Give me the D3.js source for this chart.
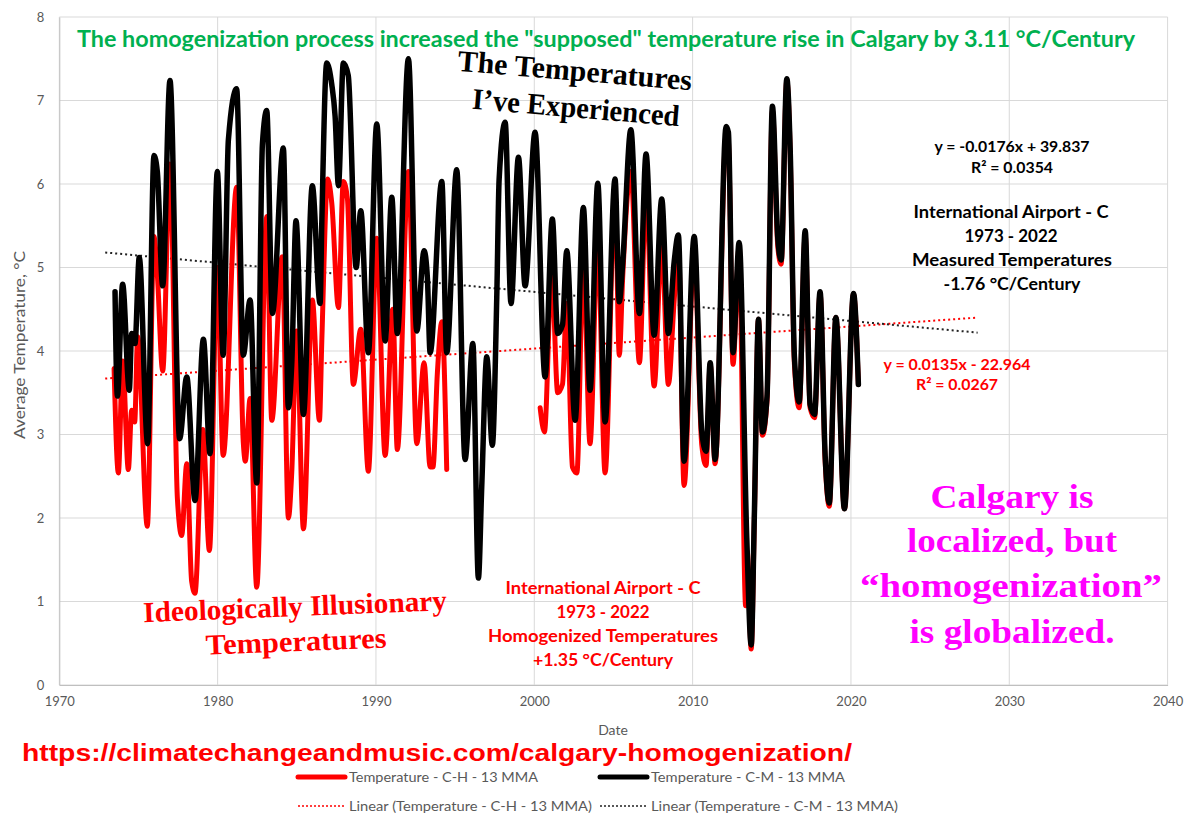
<!DOCTYPE html>
<html><head><meta charset="utf-8">
<script src="https://cdn.jsdelivr.net/npm/d3@7"></script>
<style>body{margin:0;background:#fff}</style>
</head><body><svg id="c" width="1186" height="817"></svg>
<script>
// ---------- data ----------
const xTicks = [1970, 1980, 1990, 2000, 2010, 2020, 2030, 2040];
const yTicks = [0, 1, 2, 3, 4, 5, 6, 7, 8];

// Temperature - C-M - 13 MMA  (measured)  [year, °C]
const seriesCM = [
  [1973.52,4.71],[1973.67,3.46],[1974.00,4.80],[1974.42,3.53],[1974.57,4.21],[1974.78,4.09],
  [1975.05,5.12],[1975.58,2.89],[1975.98,6.34],[1976.19,6.15],[1976.53,4.78],[1976.99,7.24],
  [1977.60,2.95],[1978.05,3.69],[1978.57,2.21],[1979.10,4.14],[1979.52,2.77],[1979.98,6.15],
  [1980.35,3.95],[1980.68,6.53],[1981.20,7.14],[1981.62,3.95],[1982.05,4.61],[1982.47,2.42],
  [1982.83,6.48],[1983.10,6.88],[1983.46,4.45],[1984.15,6.43],[1984.47,3.32],[1984.68,3.84],
  [1984.95,5.56],[1985.42,3.24],[1985.98,5.98],[1986.47,4.57],[1986.58,5.54],[1986.89,7.45],
  [1987.21,7.19],[1987.42,6.81],[1987.63,5.98],[1987.94,7.45],[1988.25,7.30],[1988.75,5.00],
  [1989.04,5.68],[1989.52,3.98],[1990.05,6.72],[1990.58,4.12],[1991.00,5.84],[1991.35,4.21],
  [1992.05,7.50],[1992.58,4.24],[1993.04,5.20],[1993.25,4.87],[1993.42,3.98],[1994.16,6.03],
  [1994.47,3.98],[1995.10,6.17],[1995.63,2.70],[1996.12,4.09],[1996.47,1.28],[1996.68,2.37],
  [1997.00,3.93],[1997.35,2.87],[1997.63,4.64],[1997.78,6.06],[1998.16,6.74],[1998.53,4.57],
  [1999.00,6.32],[1999.42,4.78],[2000.05,6.62],[2000.68,3.69],[2001.14,5.58],[2001.48,4.21],
  [2001.78,4.31],[2002.05,5.20],[2002.58,3.17],[2003.10,5.72],[2003.52,3.53],[2004.01,6.01],
  [2004.47,3.15],[2005.10,6.06],[2005.37,4.59],[2005.58,5.04],[2006.10,6.65],[2006.64,4.45],
  [2007.06,6.36],[2007.57,4.19],[2008.05,5.82],[2008.47,4.21],[2008.83,5.06],[2009.10,5.39],
  [2009.46,2.68],[2010.10,5.37],[2010.58,3.03],[2010.85,2.80],[2011.11,3.86],[2011.42,2.70],
  [2012.12,6.69],[2012.26,6.62],[2012.55,3.98],[2012.94,5.30],[2013.42,1.76],[2013.70,0.48],
  [2013.90,2.04],[2014.16,4.38],[2014.41,3.03],[2014.70,3.46],[2015.04,6.93],[2015.38,5.35],
  [2015.59,5.09],[2015.95,7.26],[2016.16,6.43],[2016.43,3.93],[2016.73,3.39],[2017.11,5.44],
  [2017.42,3.36],[2017.70,3.24],[2018.05,4.71],[2018.37,2.75],[2018.63,2.18],[2019.05,4.40],
  [2019.59,2.11],[2020.16,4.69],[2020.47,3.60]
];

// Temperature - C-H - 13 MMA  (homogenized)  [year, °C]; null = gap in the record
const seriesCH = [
  [1973.46,3.79],[1973.73,2.54],[1974.00,3.88],[1974.36,2.58],[1974.57,3.29],[1974.76,3.15],
  [1974.95,4.17],[1975.56,1.90],[1975.98,5.37],[1976.19,4.92],[1976.53,3.76],[1976.99,6.24],
  [1977.46,2.23],[1977.73,1.79],[1978.05,2.65],[1978.36,1.24],[1978.57,1.10],[1979.06,3.06],
  [1979.48,1.61],[1979.98,5.00],[1980.35,2.75],[1981.20,5.96],[1981.62,2.91],[1981.75,2.68],
  [1982.05,3.43],[1982.47,1.17],[1983.10,5.61],[1983.42,3.17],[1984.08,5.13],[1984.47,2.00],
  [1984.68,2.54],[1984.99,4.24],[1985.42,1.87],[1985.98,4.61],[1986.43,3.17],[1986.58,4.12],
  [1986.95,6.06],[1987.21,5.77],[1987.63,4.52],[1987.94,6.03],[1988.20,5.82],[1988.57,3.60],
  [1989.04,4.26],[1989.52,2.56],[1990.05,5.35],[1990.58,2.75],[1991.06,4.50],[1991.35,2.82],
  [1992.05,6.15],[1992.58,2.89],[1993.04,3.86],[1993.42,2.61],[1993.60,2.61],[1993.88,3.74],
  [1994.16,4.35],[1994.47,2.58],
  null,
  [2000.37,3.32],[2000.64,3.03],[2001.10,4.95],[2001.48,3.50],[2001.78,3.60],[2002.05,4.57],
  [2002.41,2.61],[2002.69,2.54],[2003.10,5.11],[2003.52,2.89],[2004.01,5.35],[2004.47,2.54],
  [2005.10,5.91],[2005.37,3.95],[2005.58,4.87],[2006.10,6.15],[2006.64,3.86],[2007.06,5.91],
  [2007.57,3.58],[2008.05,5.30],[2008.47,3.60],[2008.83,4.59],[2009.10,5.25],[2009.46,2.39],
  [2010.10,5.20],[2010.58,2.87],[2010.85,2.63],[2011.11,3.84],[2011.42,2.65],[2012.12,6.57],
  [2012.26,6.55],[2012.55,3.84],[2012.94,5.25],[2013.35,0.95],[2013.45,1.60],[2013.70,0.43],
  [2013.90,2.00],[2014.16,4.38],[2014.41,2.99],[2014.70,3.41],[2015.04,6.88],[2015.38,5.25],
  [2015.59,5.04],[2015.95,7.24],[2016.16,6.40],[2016.43,3.84],[2016.73,3.32],[2017.11,5.39],
  [2017.42,3.32],[2017.70,3.20],[2018.05,4.69],[2018.37,2.69],[2018.63,2.14],[2019.05,4.40],
  [2019.59,2.11],[2020.16,4.68],[2020.47,3.60]
];

// linear trend lines (end points)
const trendYears = [1972.9, 2028.0];
const trendCH = [3.67, 4.40];
const trendCM = [5.18, 4.22];

const legendLabels = [
  "Temperature - C-H - 13 MMA", "Temperature - C-M - 13 MMA",
  "Linear (Temperature - C-H - 13 MMA)", "Linear (Temperature - C-M - 13 MMA)"
];

// ---------- drawing ----------
const svg = d3.select("#c");
const L = 59.3, R = 1167.6, T = 17, B = 685;
const x = d3.scaleLinear().domain([1970, 2040]).range([L, R]);
const y = d3.scaleLinear().domain([0, 8]).range([B, T]);
const SANS = "Lato, 'Open Sans', sans-serif";
const SERIF = "'Liberation Serif', 'DejaVu Serif', serif";
const GRID = "#d9d9d9", LABEL = "#595959";

// gridlines
svg.append("g").selectAll("line.h").data(yTicks).join("line")
  .attr("x1", L).attr("x2", R).attr("y1", d => y(d)).attr("y2", d => y(d))
  .attr("stroke", GRID).attr("stroke-width", 1);
svg.append("g").selectAll("line.v").data(xTicks).join("line")
  .attr("x1", d => x(d)).attr("x2", d => x(d)).attr("y1", T).attr("y2", B)
  .attr("stroke", GRID).attr("stroke-width", 1);

// axes
const gx = svg.append("g").attr("transform", `translate(0,${B})`)
  .call(d3.axisBottom(x).tickValues(xTicks).tickFormat(d3.format("d")).tickSize(0).tickPadding(12));
gx.select(".domain").attr("stroke", "#bfbfbf");
const gy = svg.append("g").attr("transform", `translate(${L},0)`)
  .call(d3.axisLeft(y).tickValues(yTicks).tickSize(0).tickPadding(15));
gy.select(".domain").attr("stroke", "#bfbfbf");
svg.selectAll(".tick text").attr("font-family", SANS).attr("font-size", 13).attr("fill", LABEL);

// axis titles
svg.append("text").attr("x", 613).attr("y", 735).attr("text-anchor", "middle")
  .attr("font-family", SANS).attr("font-size", 14).attr("fill", LABEL).text("Date");
svg.append("text").attr("transform", "translate(25,345) rotate(-90)").attr("text-anchor", "middle")
  .attr("font-family", SANS).attr("font-size", 14.5).attr("fill", LABEL)
  .attr("textLength", 188).attr("lengthAdjust", "spacingAndGlyphs").text("Average Temperature, °C");

// trend lines
const tl = d3.line().x(d => x(d[0])).y(d => y(d[1]));
svg.append("path").datum(trendYears.map((t, i) => [t, trendCH[i]])).attr("d", tl)
  .attr("fill", "none").attr("stroke", "#ff0000").attr("stroke-width", 2)
  .attr("stroke-dasharray", "2,3");
svg.append("path").datum(trendYears.map((t, i) => [t, trendCM[i]])).attr("d", tl)
  .attr("fill", "none").attr("stroke", "#222").attr("stroke-width", 2)
  .attr("stroke-dasharray", "2,3");

// series
const line = d3.line().defined(d => d !== null)
  .x(d => x(d[0])).y(d => y(d[1])).curve(d3.curveMonotoneX);
svg.append("path").datum(seriesCH).attr("d", line).attr("fill", "none")
  .attr("stroke", "#ff0000").attr("stroke-width", 5).attr("stroke-linejoin", "round").attr("stroke-linecap", "round");
svg.append("path").datum(seriesCM).attr("d", line).attr("fill", "none")
  .attr("stroke", "#000").attr("stroke-width", 5.5).attr("stroke-linejoin", "round").attr("stroke-linecap", "round");

// helper for text
function txt(s, o) {
  const t = svg.append("text").text(s)
    .attr("x", o.x).attr("y", o.y).attr("text-anchor", o.anchor || "middle")
    .attr("font-family", o.font || SANS).attr("font-size", o.size)
    .attr("font-weight", o.weight || "bold").attr("fill", o.fill || "#000");
  if (o.dy) t.attr("dy", o.dy);
  if (o.len) t.attr("textLength", o.len).attr("lengthAdjust", "spacingAndGlyphs");
  if (o.rot) t.attr("transform", `rotate(${o.rot},${o.x},${o.y})`);
  return t;
}

// title
txt('The homogenization process increased the "supposed" temperature rise in Calgary by 3.11 °C/Century',
  {x: 606, y: 47, size: 22, fill: "#00b050", len: 1058});

// black annotation (measured)
txt("The Temperatures", {x: 575, y: 70, dy: "0.35em", size: 30, font: SERIF, len: 235, rot: 4.8});
txt("I’ve Experienced", {x: 576, y: 107, dy: "0.35em", size: 30, font: SERIF, len: 208, rot: 4.8});
txt("y = -0.0176x + 39.837", {x: 1012, y: 147, dy: "0.35em", size: 14.5, len: 155});
txt("R² = 0.0354", {x: 1012, y: 168, dy: "0.35em", size: 14.5, len: 82});
txt("International Airport - C", {x: 1011, y: 212, dy: "0.35em", size: 16.5, len: 195});
txt("1973 - 2022", {x: 1011, y: 236, dy: "0.35em", size: 16.5, len: 93});
txt("Measured Temperatures", {x: 1012, y: 260, dy: "0.35em", size: 16.5, len: 200});
txt("-1.76 °C/Century", {x: 1012, y: 284, dy: "0.35em", size: 16.5, len: 137});

// red annotation (homogenized)
txt("y = 0.0135x - 22.964", {x: 957, y: 365, dy: "0.35em", size: 14.5, fill: "#ff0000", len: 147});
txt("R² = 0.0267", {x: 957, y: 385, dy: "0.35em", size: 14.5, fill: "#ff0000", len: 82});
txt("International Airport - C", {x: 603, y: 588, dy: "0.35em", size: 16.5, fill: "#ff0000", len: 195});
txt("1973 - 2022", {x: 603, y: 612, dy: "0.35em", size: 16.5, fill: "#ff0000", len: 93});
txt("Homogenized Temperatures", {x: 603, y: 636, dy: "0.35em", size: 16.5, fill: "#ff0000", len: 230});
txt("+1.35 °C/Century", {x: 603, y: 660, dy: "0.35em", size: 16.5, fill: "#ff0000", len: 140});
txt("Ideologically Illusionary", {x: 295, y: 606, dy: "0.35em", size: 29, font: SERIF, fill: "#ff0000", len: 304, rot: -2.3});
txt("Temperatures", {x: 296, y: 641, dy: "0.35em", size: 29, font: SERIF, fill: "#ff0000", len: 181, rot: -2.3});

// magenta
const mag = "#ff00ff";
txt("Calgary is", {x: 1012, y: 496, dy: "0.35em", size: 34, font: SERIF, fill: mag, len: 163});
txt("localized, but", {x: 1012, y: 540, dy: "0.35em", size: 34, font: SERIF, fill: mag, len: 210});
txt("“homogenization”", {x: 1011, y: 585, dy: "0.35em", size: 34, font: SERIF, fill: mag, len: 302});
txt("is globalized.", {x: 1012, y: 631, dy: "0.35em", size: 34, font: SERIF, fill: mag, len: 205});

// URL
txt("https://climatechangeandmusic.com/calgary-homogenization/",
  {x: 22, y: 753, dy: "0.35em", anchor: "start", size: 23, weight: "bold",
   font: "'Liberation Sans', Arial, sans-serif", fill: "#ff0000", len: 830});

// legend
const lg = svg.append("g");
const legendItems = [
  {lab: legendLabels[0], x: 298, y: 777, color: "#ff0000", dash: null, w: 5, len: 189},
  {lab: legendLabels[1], x: 600, y: 777, color: "#000", dash: null, w: 5, len: 194},
  {lab: legendLabels[2], x: 298, y: 806, color: "#ff0000", dash: "2,2", w: 1.5, len: 243},
  {lab: legendLabels[3], x: 600, y: 806, color: "#222", dash: "2,2", w: 1.5, len: 247}
];
legendItems.forEach(it => {
  lg.append("line").attr("x1", it.x).attr("x2", it.x + 47).attr("y1", it.y).attr("y2", it.y)
    .attr("stroke", it.color).attr("stroke-width", it.w)
    .attr("stroke-dasharray", it.dash).attr("stroke-linecap", it.dash ? "butt" : "round");
  lg.append("text").attr("x", it.x + 51).attr("y", it.y).attr("dy", "0.35em")
    .attr("font-family", SANS).attr("font-size", 14).attr("fill", LABEL)
    .attr("textLength", it.len).attr("lengthAdjust", "spacingAndGlyphs").text(it.lab);
});
</script>
</body></html>
